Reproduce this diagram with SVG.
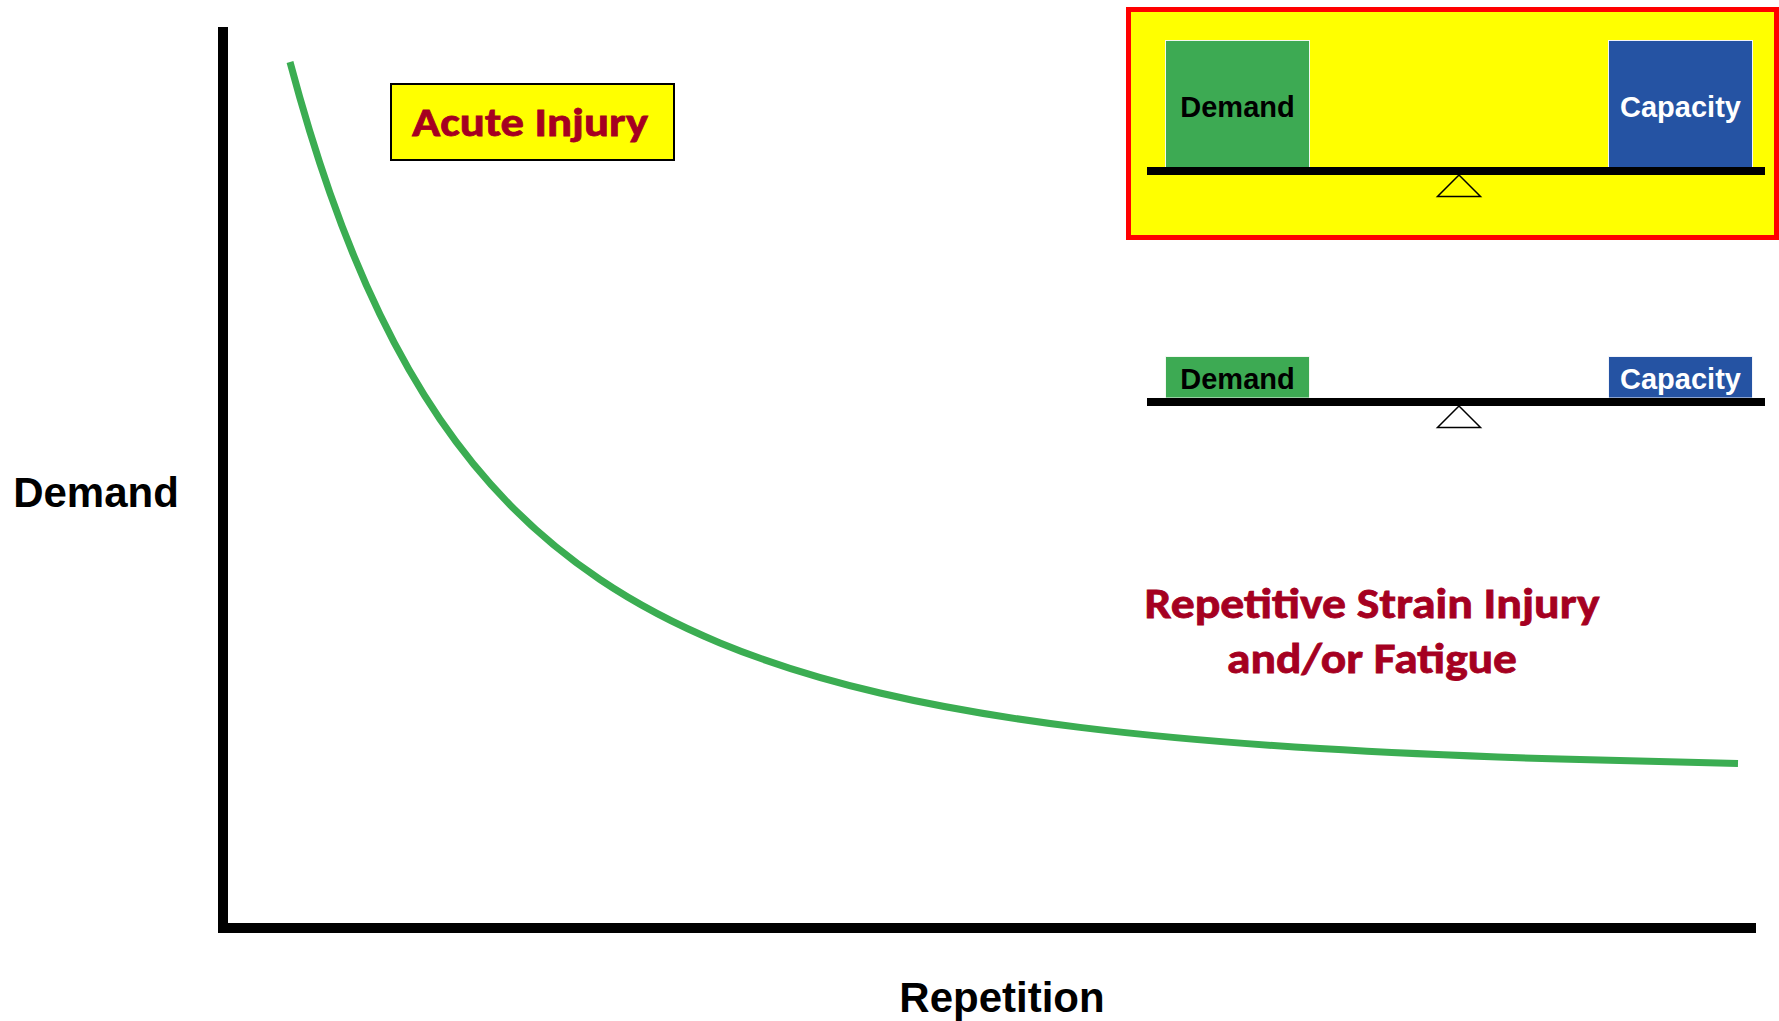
<svg xmlns="http://www.w3.org/2000/svg" width="1779" height="1021" viewBox="0 0 1779 1021">
  <style>
    .axis { fill: #000000; }
    .axis-label { font-family: "Liberation Sans", Arial, sans-serif; font-weight: bold; fill: #000000; }
    .callout { font-family: Carlito, Lato, "Open Sans", sans-serif; font-weight: bold; fill: #A50021; stroke: #A50021; stroke-width: 0.8; }
    .weight-text { font-family: "Liberation Sans", Arial, sans-serif; font-weight: bold; font-size: 29px; text-anchor: middle; }
    .demand-box { fill: #3DAA53; stroke: #F2F8F0; stroke-width: 1; }
    .capacity-box { fill: #2553A3; stroke: #F2F4FA; stroke-width: 1; }
    .beam { fill: #000000; }
    .fulcrum { stroke: #000000; stroke-width: 1.5; stroke-linejoin: miter; }
  </style>

  <rect x="0" y="0" width="1779" height="1021" fill="#FFFFFF"/>

  <!-- Axes -->
  <g id="axes">
    <rect class="axis" x="218" y="27" width="10" height="906"/>
    <rect class="axis" x="218" y="923" width="1538" height="10"/>
  </g>

  <!-- Axis titles -->
  <g id="y-axis-label">
    <text class="axis-label" x="96" y="507" font-size="42" text-anchor="middle">Demand</text>
  </g>
  <g id="x-axis-label">
    <text class="axis-label" x="1002" y="1012" font-size="42" text-anchor="middle">Repetition</text>
  </g>

  <!-- Demand vs repetition curve -->
  <g id="connectors">
    <path id="demand-curve" fill="none" stroke="#3BAD52" stroke-width="7" stroke-linecap="butt"
      d="M290,62
         C303.33,112.03 316.67,155.18 330,193.1
         C346.67,240.5 363.33,280.12 380,314.6
         C400,355.98 420,390.04 440,419.3
         C463.33,453.44 486.67,481.17 510,504.9
         C540,535.41 570,559.36 600,579.5
         C640,606.36 680,626.39 720,642.9
         C773.33,664.92 826.67,680.53 880,693
         C946.67,708.59 1013.33,719.15 1080,727.4
         C1160,737.3 1240,743.74 1320,748.6
         C1400,753.46 1480,756.65 1560,759.1
         C1619.33,760.92 1678.67,762.3 1738,763.4"/>
  </g>

  <!-- Acute injury callout -->
  <g id="acute-injury">
    <rect x="391" y="84" width="283" height="76" fill="#FFFF00" stroke="#000000" stroke-width="2"/>
    <text class="callout" x="530" y="136" font-size="41" text-anchor="middle" textLength="236" lengthAdjust="spacingAndGlyphs">Acute Injury</text>
  </g>

  <!-- Repetitive strain callout -->
  <g id="repetitive-strain">
    <text class="callout" x="1372" y="618" font-size="43" text-anchor="middle" textLength="455" lengthAdjust="spacingAndGlyphs">Repetitive Strain Injury</text>
    <text class="callout" x="1372" y="673" font-size="43" text-anchor="middle" textLength="290" lengthAdjust="spacingAndGlyphs">and/or Fatigue</text>
  </g>

  <!-- Balance: high demand, highlighted -->
  <g id="balance-acute">
    <rect x="1128.5" y="9.5" width="648" height="228" fill="#FFFF00" stroke="#FF0000" stroke-width="5"/>
    <rect class="demand-box" x="1165.5" y="40.5" width="144" height="127"/>
    <rect class="capacity-box" x="1608.5" y="40.5" width="144" height="127"/>
    <text class="weight-text" x="1237.5" y="117" fill="#000000">Demand</text>
    <text class="weight-text" x="1680.5" y="117" fill="#FFFFFF">Capacity</text>
    <rect class="beam" x="1147" y="167" width="618" height="8"/>
    <polygon class="fulcrum" points="1459,175 1437.5,196.5 1480.5,196.5" fill="#FFFF00"/>
  </g>

  <!-- Balance: low demand -->
  <g id="balance-repetitive">
    <rect class="demand-box" x="1165.5" y="356.5" width="144" height="41.5"/>
    <rect class="capacity-box" x="1608.5" y="356.5" width="144" height="41.5"/>
    <text class="weight-text" x="1237.5" y="389" fill="#000000">Demand</text>
    <text class="weight-text" x="1680.5" y="389" fill="#FFFFFF">Capacity</text>
    <rect class="beam" x="1147" y="398" width="618" height="8"/>
    <polygon class="fulcrum" points="1459,406 1437.5,427.5 1480.5,427.5" fill="#FFFFFF"/>
  </g>
</svg>
